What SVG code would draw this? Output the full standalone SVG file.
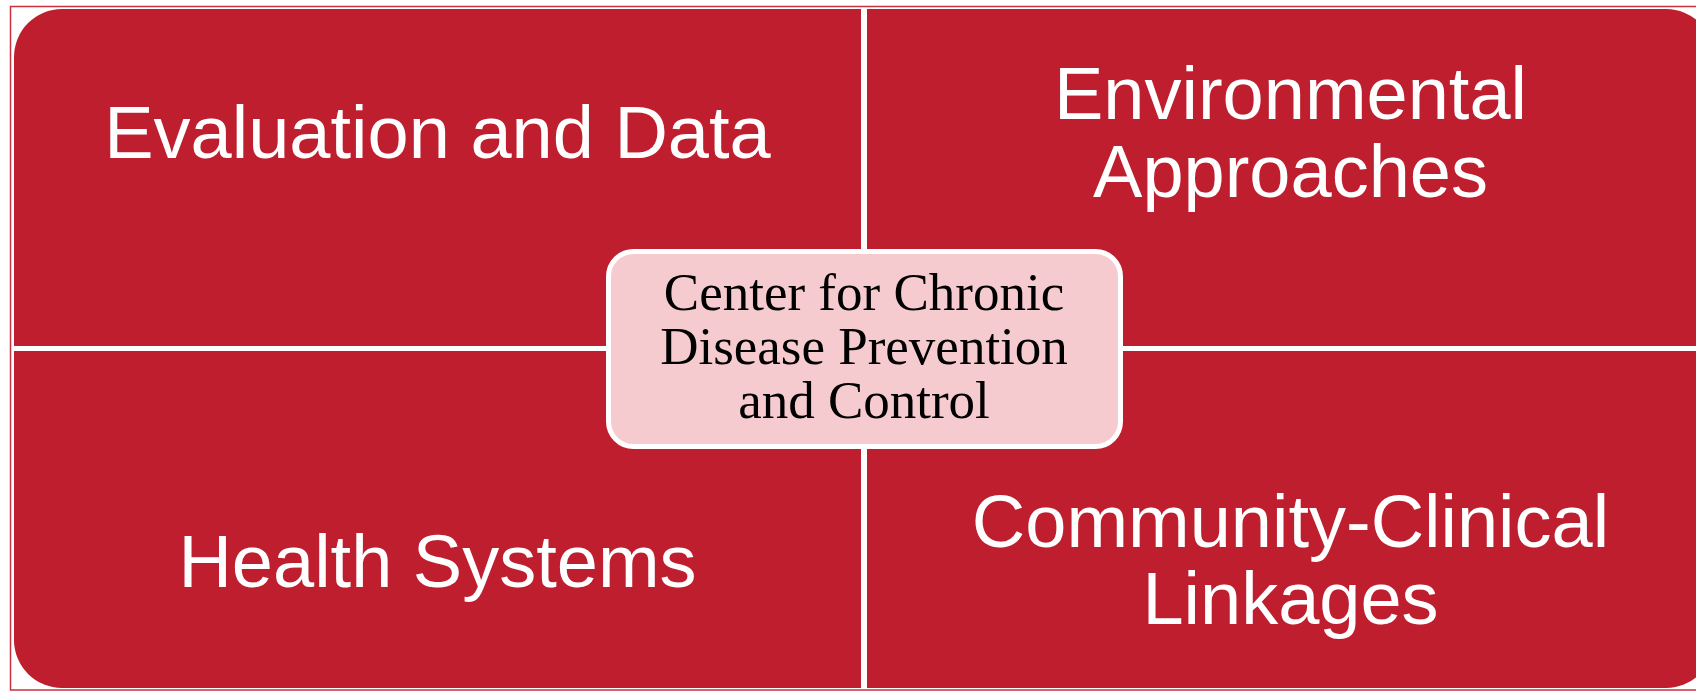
<svg xmlns="http://www.w3.org/2000/svg" width="1696" height="692" viewBox="0 0 1696 692">
  <style>
    .quad { fill: #BE1E2D; }
    .qlabel { font-family: "Liberation Sans", Arial, sans-serif; font-size: 74px; fill: #FFFFFF; text-anchor: middle; }
    .hub { fill: #F6CBD0; stroke: #FFFFFF; stroke-width: 5; }
    .hlabel { font-family: "Liberation Serif", "Times New Roman", serif; font-size: 53px; fill: #000000; text-anchor: middle; }
  </style>
  <rect x="0" y="0" width="1696" height="692" fill="#FFFFFF"/>
  <!-- thin outer frame -->
  <rect x="10.5" y="6.5" width="1720" height="683.5" fill="none" stroke="#C8313E" stroke-width="1.5"/>

  <!-- four quadrants, each rounded only on its outer corner -->
  <g id="evaluation-and-data">
    <path class="quad" d="M14,57 A48,48 0 0 1 62,9 L861,9 L861,346 L14,346 Z"/>
    <text class="qlabel" x="437.5" y="158">Evaluation and Data</text>
  </g>
  <g id="environmental-approaches">
    <path class="quad" d="M867,9 L1666,9 A48,48 0 0 1 1714,57 L1714,346 L867,346 Z"/>
    <text class="qlabel" x="1290.5" y="119">Environmental</text>
    <text class="qlabel" x="1290.5" y="197">Approaches</text>
  </g>
  <g id="health-systems">
    <path class="quad" d="M14,351 L861,351 L861,688 L62,688 A48,48 0 0 1 14,640 Z"/>
    <text class="qlabel" x="437.5" y="587">Health Systems</text>
  </g>
  <g id="community-clinical-linkages">
    <path class="quad" d="M867,351 L1714,351 L1714,640 A48,48 0 0 1 1666,688 L867,688 Z"/>
    <text class="qlabel" x="1290.5" y="547">Community-Clinical</text>
    <text class="qlabel" x="1290.5" y="624">Linkages</text>
  </g>

  <g id="connectors"></g>

  <!-- central hub -->
  <g id="center-hub">
    <rect class="hub" x="608.5" y="251.5" width="512" height="195" rx="25" ry="25"/>
    <text class="hlabel" x="864" y="310">Center for Chronic</text>
    <text class="hlabel" x="864" y="364">Disease Prevention</text>
    <text class="hlabel" x="864" y="418">and Control</text>
  </g>
</svg>
